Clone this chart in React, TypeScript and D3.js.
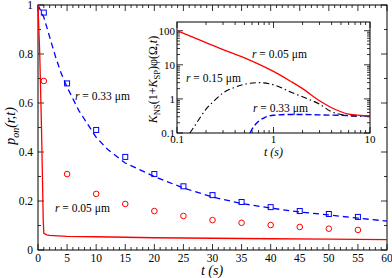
import React from "react";
import * as d3 from "d3";

// main plot: p_on(r,t)
const curveT033 = [0, 1, 2, 3, 4, 5, 7, 10, 12, 15, 20, 25, 30, 35, 40, 45, 50, 55, 60];
const curveP033 = [1.0, 0.95, 0.87, 0.79, 0.72, 0.665, 0.57, 0.46, 0.41, 0.355, 0.3, 0.253, 0.216, 0.19, 0.171, 0.155, 0.143, 0.13, 0.118];
const curveT005 = [0, 0.3, 0.6, 0.8, 0.9, 1.0, 1.5, 2, 5, 10, 20, 30, 40, 50, 60];
const curveP005 = [1.0, 0.8, 0.5, 0.25, 0.12, 0.068, 0.062, 0.06, 0.056, 0.054, 0.05, 0.048, 0.046, 0.044, 0.042];
const pointT = [1, 5, 10, 15, 20, 25, 30, 35, 40, 45, 50, 55];
const squareP = [0.969, 0.68, 0.49, 0.38, 0.31, 0.26, 0.224, 0.196, 0.175, 0.159, 0.147, 0.135];
const circleP = [0.69, 0.31, 0.229, 0.188, 0.159, 0.139, 0.122, 0.111, 0.102, 0.094, 0.087, 0.082];
const xTickLabels = [0, 5, 10, 15, 20, 25, 30, 35, 40, 45, 50, 55, 60];
const yTickLabels = [0, 0.2, 0.4, 0.6, 0.8, 1];

// inset: K_NS(1+K_SP)phi(Omega,t)
const insT005 = [0.1, 0.2, 0.3, 0.5, 0.7, 1, 1.5, 2, 3, 4, 5, 6, 7, 8, 10];
const insV005 = [100, 45, 28, 16, 10.5, 6.4, 3.3, 2.0, 0.88, 0.55, 0.42, 0.36, 0.34, 0.33, 0.32];
const insT015 = [0.136, 0.15, 0.2, 0.25, 0.3, 0.4, 0.5, 0.7, 1, 1.5, 2, 3, 4, 5, 6, 8, 10];
const insV015 = [0.1, 0.15, 0.5, 0.95, 1.5, 2.2, 2.7, 3.0, 2.6, 1.6, 1.15, 0.7, 0.42, 0.35, 0.32, 0.31, 0.31];
const insT033 = [0.57, 0.62, 0.7, 0.8, 1, 1.5, 2, 3, 5, 10];
const insV033 = [0.1, 0.15, 0.22, 0.28, 0.33, 0.35, 0.35, 0.34, 0.33, 0.32];
const insXLabels = [0.1, 1, 10];
const insYLabels = [0.1, 1, 10, 100];

const serif = "'Liberation Serif', 'DejaVu Serif', serif";

const logMinor = (lo: number, hi: number) => {
  const out: number[] = [];
  for (let e = -2; e <= 3; e++) {
    for (let m = 1; m <= 9; m++) {
      const v = m * Math.pow(10, e);
      if (v >= lo * 0.999 && v <= hi * 1.001) out.push(v);
    }
  }
  return out;
};

const App = () => {
  const W = 392, H = 278;
  const x = d3.scaleLinear().domain([0, 60]).range([38, 387]);
  const y = d3.scaleLinear().domain([0, 1]).range([250, 5]);

  const ix = d3.scaleLog().domain([0.1, 10]).range([177, 370]);
  const iy = d3.scaleLog().domain([0.1, 180]).range([133, 22]);

  const line = d3.line<[number, number]>().x(d => x(d[0])).y(d => y(d[1]));
  const iline = d3.line<[number, number]>().x(d => ix(d[0])).y(d => iy(d[1])).curve(d3.curveMonotoneX);

  const zip = (a: number[], b: number[]) => a.map((t, i) => [t, b[i]] as [number, number]);

  const xMinor = d3.range(0, 61, 1);
  const yMinor = d3.range(0, 1.001, 0.1);
  const [x0, x1] = x.range();
  const [y0, y1] = y.range();
  const [ix0, ix1] = ix.range();
  const [iy0, iy1] = iy.range();

  return (
    <svg width={W} height={H} style={{ position: "absolute", left: 0, top: 0, background: "#fff" }} fontFamily={serif}>
      {/* main frame */}
      <rect x={x0} y={y1} width={x1 - x0} height={y0 - y1} fill="none" stroke="#000" strokeWidth={1} />
      {xMinor.map(t => {
        const major = t % 5 === 0;
        const len = major ? 6 : 3;
        return (
          <g key={"xt" + t}>
            <line x1={x(t)} x2={x(t)} y1={y0} y2={y0 - len} stroke="#000" strokeWidth={0.8} />
            <line x1={x(t)} x2={x(t)} y1={y1} y2={y1 + len} stroke="#000" strokeWidth={0.8} />
          </g>
        );
      })}
      {yMinor.map((v, i) => {
        const len = i % 2 === 0 ? 6 : 3;
        return (
          <g key={"yt" + i}>
            <line x1={x0} x2={x0 + len} y1={y(v)} y2={y(v)} stroke="#000" strokeWidth={0.8} />
            <line x1={x1} x2={x1 - len} y1={y(v)} y2={y(v)} stroke="#000" strokeWidth={0.8} />
          </g>
        );
      })}
      {xTickLabels.map(t => (
        <text key={"xl" + t} x={x(t)} y={262} fontSize={11.5} textAnchor="middle">{t}</text>
      ))}
      {yTickLabels.map(v => (
        <text key={"yl" + v} x={33} y={y(v) + 4} fontSize={11.5} textAnchor="end">{v}</text>
      ))}
      <text x={212} y={274.5} fontSize={14} fontStyle="italic" textAnchor="middle">t (s)</text>
      <text transform="translate(15,126) rotate(-90)" fontSize={14} fontStyle="italic" textAnchor="middle">
        p<tspan fontSize={10} dy={4}>on</tspan><tspan dy={-4}>(r,t)</tspan>
      </text>

      {/* main curves */}
      <path d={line(zip(curveT033, curveP033)) || ""} fill="none" stroke="#0000ff" strokeWidth={1.3} strokeDasharray="6,4" />
      <path d={line(zip(curveT005, curveP005)) || ""} fill="none" stroke="#ff0000" strokeWidth={1.3} />
      {pointT.map((t, i) => (
        <rect key={"sq" + t} x={x(t) - 2.5} y={y(squareP[i]) - 2.5} width={5} height={5} fill="none" stroke="#0000ff" strokeWidth={1} />
      ))}
      {pointT.map((t, i) => (
        <circle key={"ci" + t} cx={x(t)} cy={y(circleP[i])} r={2.8} fill="none" stroke="#ff0000" strokeWidth={1} />
      ))}
      <text x={75} y={100} fontSize={11.5}><tspan fontStyle="italic">r</tspan> = 0.33  μm</text>
      <text x={55} y={212} fontSize={11.5}><tspan fontStyle="italic">r</tspan> = 0.05  μm</text>

      {/* inset */}
      <rect x={ix0} y={iy1} width={ix1 - ix0} height={iy0 - iy1} fill="#fff" stroke="#000" strokeWidth={1} />
      {logMinor(0.1, 10).map((t, i) => {
        const major = Math.abs(Math.log10(t) - Math.round(Math.log10(t))) < 1e-6;
        const len = major ? 6 : 3;
        return (
          <g key={"ixt" + i}>
            <line x1={ix(t)} x2={ix(t)} y1={iy0} y2={iy0 - len} stroke="#000" strokeWidth={0.8} />
            <line x1={ix(t)} x2={ix(t)} y1={iy1} y2={iy1 + len} stroke="#000" strokeWidth={0.8} />
          </g>
        );
      })}
      {logMinor(0.1, 180).map((v, i) => {
        const major = Math.abs(Math.log10(v) - Math.round(Math.log10(v))) < 1e-6;
        const len = major ? 6 : 3;
        return (
          <g key={"iyt" + i}>
            <line x1={ix0} x2={ix0 + len} y1={iy(v)} y2={iy(v)} stroke="#000" strokeWidth={0.8} />
            <line x1={ix1} x2={ix1 - len} y1={iy(v)} y2={iy(v)} stroke="#000" strokeWidth={0.8} />
          </g>
        );
      })}
      {insXLabels.map(t => (
        <text key={"ixl" + t} x={ix(t)} y={iy0 + 10} fontSize={11} textAnchor="middle">{t}</text>
      ))}
      {insYLabels.map(v => (
        <text key={"iyl" + v} x={ix0 - 2} y={iy(v) + 4} fontSize={11} textAnchor="end">{v}</text>
      ))}
      <text x={ix(1)} y={156} fontSize={12} fontStyle="italic" textAnchor="middle">t (s)</text>
      <text transform={`translate(157,${(iy0 + iy1) / 2 + 2}) rotate(-90)`} fontSize={12} textAnchor="middle">
        <tspan fontStyle="italic">K</tspan><tspan fontSize={8.5} dy={3}>NS</tspan>
        <tspan dy={-3}>(1+</tspan><tspan fontStyle="italic">K</tspan><tspan fontSize={8.5} dy={3}>SP</tspan>
        <tspan dy={-3}>)φ(Ω,</tspan><tspan fontStyle="italic">t</tspan><tspan>)</tspan>
      </text>
      <path d={iline(zip(insT015, insV015)) || ""} fill="none" stroke="#000" strokeWidth={1.1} strokeDasharray="6,3,1.5,3" />
      <path d={iline(zip(insT033, insV033)) || ""} fill="none" stroke="#0000ff" strokeWidth={1.4} strokeDasharray="6,3" />
      <path d={iline(zip(insT005, insV005)) || ""} fill="none" stroke="#ff0000" strokeWidth={1.3} />
      <text x={252} y={58} fontSize={11.5}><tspan fontStyle="italic">r</tspan> = 0.05  μm</text>
      <text x={186} y={82} fontSize={11.5}><tspan fontStyle="italic">r</tspan> = 0.15  μm</text>
      <text x={253} y={112} fontSize={11.5}><tspan fontStyle="italic">r</tspan> = 0.33  μm</text>
    </svg>
  );
};

export default App;
